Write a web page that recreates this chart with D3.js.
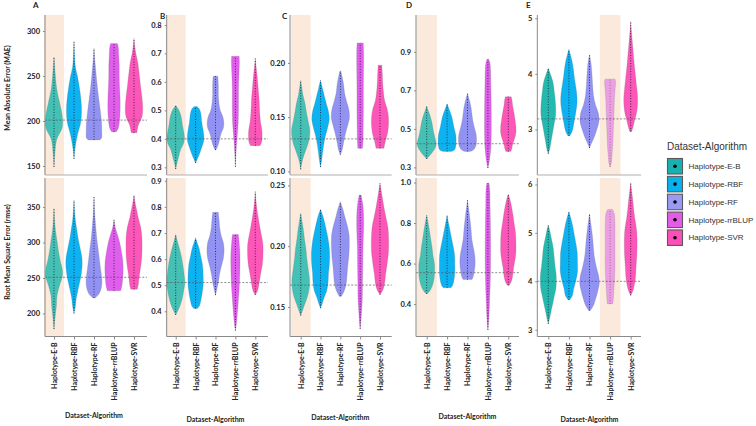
<!DOCTYPE html>
<html><head><meta charset="utf-8">
<script src="https://cdn.jsdelivr.net/npm/d3@7"></script>
<style>body{margin:0;background:#fff} svg{display:block}</style>
</head><body>
<svg id="chart" width="756" height="426"></svg>
<script>
// ---------------- DATA ----------------
const categories = ["Haplotype-E-B","Haplotype-RBF","Haplotype-RF","Haplotype-rrBLUP","Haplotype-SVR"];
const violinColors = ["#17b5ab","#00aeef","#8c8cf2","#de55ea","#fc4db4"];
const legendColors = ["#19b1b0","#0ab0ec","#9a9af4","#e25ce8","#fd4fb8"];
const panelLabels = ["A","B","C","D","E"];
const highlighted = ["Haplotype-E-B","Haplotype-E-B","Haplotype-E-B","Haplotype-E-B","Haplotype-rrBLUP"];
const maeRef = [201, 0.40, 0.13, 0.423, 3.19];
const rmseRef = [251, 0.51, 0.168, 0.555, 4.0];
const maeTicks = [[150,200,250,300],[0.3,0.4,0.5,0.6,0.7,0.8],[0.10,0.15,0.20],[0.3,0.5,0.7,0.9],[3,4,5]];
const rmseTicks = [[200,250,300,350],[0.4,0.5,0.6,0.7,0.8,0.9],[0.15,0.20,0.25],[0.4,0.6,0.8,1.0],[3,4,5,6]];
const maeTickFormat = ["d",".1f",".2f",".1f","d"];
const rmseTickFormat = ["d",".1f",".2f",".1f","d"];
const maeDomains = [[140,317.8],[0.273,0.835],[0.0967,0.2442],[0.2604,1.0917],[2.181,5.059]];
const rmseDomains = [[167.5,391],[0.3034,0.9106],[0.1257,0.2561],[0.24,1.0223],[2.861,6.133]];

// violin profiles: [value, relative half-width] per category
const maeA = [
 [[149,0],[165,0.1],[180,0.3],[192,0.85],[200,0.92],[210,0.8],[220,0.6],[235,0.3],[250,0.15],[271,0]],
 [[158,0],[170,0.12],[185,0.38],[198,0.7],[210,0.8],[222,0.75],[235,0.6],[248,0.4],[260,0.15],[275,0.05],[288,0]],
 [[179,0.6],[181,0.8],[188,0.82],[198,0.8],[210,0.68],[225,0.5],[240,0.33],[255,0.2],[268,0.08],[281,0]],
 [[188,0.25],[192,0.45],[200,0.58],[210,0.64],[222,0.65],[235,0.6],[250,0.55],[262,0.55],[272,0.5],[282,0.45],[286,0.35]],
 [[187,0.3],[195,0.45],[205,0.85],[215,0.92],[225,0.85],[240,0.68],[255,0.52],[265,0.4],[275,0.2],[285,0.06],[292,0]]
];
const rmseA = [
 [[178,0],[195,0.12],[210,0.25],[225,0.32],[240,0.6],[252,0.88],[262,0.88],[275,0.65],[290,0.45],[300,0.35],[315,0.18],[330,0.07],[348,0]],
 [[200,0],[210,0.15],[222,0.25],[235,0.45],[250,0.7],[265,0.85],[278,0.84],[292,0.65],[305,0.45],[318,0.3],[335,0.12],[360,0]],
 [[222,0.15],[228,0.55],[238,0.8],[250,0.82],[262,0.7],[275,0.58],[290,0.45],[305,0.3],[320,0.2],[340,0.08],[364,0]],
 [[232,0.7],[238,0.82],[250,0.92],[262,0.96],[275,0.92],[290,0.75],[300,0.6],[310,0.4],[318,0.2],[325,0.08],[332,0]],
 [[234,0.35],[240,0.45],[252,0.55],[265,0.7],[280,0.82],[295,0.85],[310,0.82],[322,0.7],[335,0.45],[348,0.25],[358,0.1],[367,0]]
];
const maeB = [
 [[0.294,0],[0.31,0.1],[0.335,0.3],[0.36,0.5],[0.385,0.85],[0.405,0.93],[0.425,0.85],[0.45,0.7],[0.475,0.6],[0.5,0.35],[0.517,0]],
 [[0.315,0],[0.33,0.2],[0.35,0.45],[0.37,0.65],[0.39,0.85],[0.41,0.88],[0.43,0.8],[0.46,0.65],[0.49,0.55],[0.505,0.4],[0.514,0.15]],
 [[0.361,0.05],[0.38,0.3],[0.40,0.45],[0.42,0.6],[0.44,0.85],[0.46,0.88],[0.48,0.75],[0.5,0.5],[0.53,0.35],[0.56,0.3],[0.59,0.3],[0.62,0.25]],
 [[0.302,0],[0.34,0.05],[0.38,0.12],[0.42,0.22],[0.46,0.3],[0.52,0.33],[0.58,0.33],[0.63,0.38],[0.67,0.42],[0.69,0.4]],
 [[0.376,0.5],[0.39,0.68],[0.41,0.72],[0.43,0.7],[0.46,0.55],[0.5,0.45],[0.54,0.4],[0.58,0.3],[0.62,0.2],[0.65,0.1],[0.682,0]]
];
const rmseB = [
 [[0.386,0],[0.40,0.2],[0.42,0.45],[0.45,0.7],[0.48,0.85],[0.51,0.97],[0.54,0.9],[0.58,0.75],[0.61,0.6],[0.64,0.4],[0.665,0.2],[0.694,0]],
 [[0.411,0.2],[0.42,0.4],[0.44,0.55],[0.47,0.7],[0.5,0.8],[0.54,0.8],[0.58,0.72],[0.61,0.55],[0.64,0.38],[0.66,0.2],[0.681,0]],
 [[0.462,0],[0.48,0.12],[0.51,0.3],[0.54,0.42],[0.57,0.6],[0.6,0.82],[0.63,0.91],[0.66,0.85],[0.69,0.6],[0.72,0.45],[0.75,0.38],[0.779,0.3]],
 [[0.326,0],[0.35,0.1],[0.38,0.18],[0.41,0.25],[0.45,0.33],[0.5,0.42],[0.55,0.47],[0.6,0.49],[0.64,0.45],[0.67,0.38],[0.694,0.32]],
 [[0.463,0],[0.48,0.25],[0.51,0.42],[0.54,0.55],[0.58,0.75],[0.62,0.82],[0.66,0.8],[0.7,0.6],[0.74,0.4],[0.79,0.18],[0.83,0.06],[0.858,0]]
];
const maeC = [
 [[0.102,0],[0.108,0.12],[0.115,0.35],[0.122,0.65],[0.13,0.9],[0.138,0.97],[0.146,0.8],[0.155,0.6],[0.163,0.45],[0.17,0.25],[0.178,0.1],[0.184,0]],
 [[0.104,0],[0.11,0.12],[0.117,0.22],[0.125,0.35],[0.132,0.5],[0.14,0.75],[0.148,0.93],[0.155,0.85],[0.163,0.6],[0.17,0.4],[0.177,0.2],[0.184,0]],
 [[0.1155,0],[0.12,0.2],[0.127,0.35],[0.135,0.55],[0.143,0.8],[0.15,0.97],[0.157,0.9],[0.165,0.65],[0.172,0.45],[0.18,0.35],[0.187,0.2],[0.1926,0.05]],
 [[0.1213,0.25],[0.128,0.3],[0.14,0.32],[0.155,0.34],[0.17,0.34],[0.185,0.35],[0.2,0.37],[0.21,0.37],[0.2185,0.33]],
 [[0.1213,0.42],[0.128,0.58],[0.135,0.8],[0.142,0.9],[0.15,0.9],[0.158,0.75],[0.165,0.5],[0.172,0.38],[0.18,0.3],[0.19,0.25],[0.1979,0.2]]
];
const rmseC = [
 [[0.143,0],[0.147,0.2],[0.152,0.42],[0.158,0.7],[0.165,0.9],[0.173,0.93],[0.181,0.8],[0.19,0.65],[0.198,0.55],[0.206,0.4],[0.214,0.28],[0.22,0.15],[0.227,0]],
 [[0.149,0],[0.153,0.2],[0.158,0.4],[0.163,0.65],[0.17,0.8],[0.178,0.85],[0.186,0.95],[0.195,0.97],[0.204,0.85],[0.212,0.65],[0.219,0.45],[0.225,0.25],[0.2304,0]],
 [[0.1588,0.1],[0.163,0.4],[0.168,0.6],[0.175,0.7],[0.183,0.78],[0.19,0.88],[0.2,0.95],[0.21,0.92],[0.218,0.7],[0.225,0.45],[0.231,0.25],[0.2366,0]],
 [[0.132,0],[0.138,0.08],[0.145,0.14],[0.155,0.22],[0.17,0.25],[0.185,0.28],[0.2,0.3],[0.215,0.37],[0.228,0.35],[0.236,0.25],[0.2421,0.1]],
 [[0.1602,0],[0.164,0.3],[0.17,0.5],[0.177,0.6],[0.185,0.75],[0.195,0.9],[0.205,0.92],[0.215,0.85],[0.225,0.6],[0.232,0.42],[0.24,0.25],[0.246,0.12],[0.2517,0]]
];
const maeD = [
 [[0.344,0],[0.355,0.2],[0.37,0.45],[0.39,0.75],[0.41,0.95],[0.43,0.97],[0.46,0.82],[0.5,0.65],[0.53,0.55],[0.56,0.4],[0.59,0.2],[0.618,0]],
 [[0.383,0.45],[0.39,0.75],[0.41,0.9],[0.44,0.93],[0.47,0.9],[0.5,0.75],[0.53,0.62],[0.56,0.5],[0.59,0.3],[0.61,0.15],[0.63,0]],
 [[0.383,0.3],[0.39,0.6],[0.41,0.85],[0.44,0.93],[0.47,0.9],[0.5,0.75],[0.53,0.6],[0.56,0.5],[0.6,0.4],[0.64,0.25],[0.684,0]],
 [[0.297,0],[0.32,0.1],[0.35,0.2],[0.4,0.3],[0.48,0.35],[0.58,0.35],[0.66,0.33],[0.74,0.3],[0.8,0.28],[0.84,0.22],[0.861,0.1]],
 [[0.383,0.25],[0.395,0.35],[0.42,0.45],[0.45,0.65],[0.48,0.79],[0.51,0.79],[0.54,0.72],[0.58,0.6],[0.62,0.45],[0.65,0.38],[0.667,0.3]]
];
const rmseD = [
 [[0.451,0],[0.46,0.25],[0.48,0.5],[0.51,0.7],[0.54,0.8],[0.57,0.82],[0.6,0.8],[0.64,0.65],[0.68,0.55],[0.72,0.42],[0.76,0.3],[0.8,0.15],[0.839,0]],
 [[0.481,0.4],[0.49,0.55],[0.52,0.72],[0.56,0.8],[0.6,0.8],[0.64,0.78],[0.68,0.65],[0.72,0.48],[0.76,0.32],[0.8,0.15],[0.839,0]],
 [[0.521,0.45],[0.53,0.55],[0.56,0.7],[0.6,0.79],[0.64,0.75],[0.68,0.6],[0.72,0.45],[0.76,0.38],[0.8,0.3],[0.85,0.18],[0.913,0]],
 [[0.273,0],[0.31,0.08],[0.36,0.13],[0.42,0.18],[0.5,0.24],[0.6,0.28],[0.7,0.28],[0.8,0.26],[0.9,0.22],[0.96,0.2],[0.996,0.12]],
 [[0.493,0.1],[0.51,0.3],[0.54,0.45],[0.58,0.55],[0.62,0.7],[0.66,0.79],[0.7,0.79],[0.75,0.75],[0.8,0.6],[0.85,0.45],[0.89,0.3],[0.92,0.15],[0.942,0]]
];
const maeE = [
 [[2.564,0],[2.65,0.15],[2.8,0.3],[2.95,0.45],[3.1,0.6],[3.25,0.75],[3.4,0.76],[3.55,0.7],[3.7,0.6],[3.85,0.48],[3.98,0.25],[4.1,0]],
 [[2.887,0.1],[2.95,0.3],[3.05,0.45],[3.2,0.6],[3.35,0.75],[3.5,0.84],[3.65,0.8],[3.8,0.68],[3.95,0.55],[4.1,0.45],[4.25,0.3],[4.35,0.15],[4.443,0]],
 [[2.666,0],[2.75,0.2],[2.87,0.5],[3.0,0.75],[3.15,0.97],[3.3,0.9],[3.45,0.6],[3.6,0.42],[3.8,0.32],[4.0,0.25],[4.2,0.15],[4.341,0]],
 [[2.325,0],[2.4,0.12],[2.55,0.2],[2.75,0.28],[2.95,0.32],[3.15,0.36],[3.35,0.4],[3.55,0.44],[3.75,0.52],[3.87,0.56],[3.905,0.5]],
 [[2.964,0.1],[3.05,0.25],[3.15,0.38],[3.3,0.6],[3.45,0.7],[3.6,0.7],[3.75,0.62],[3.95,0.5],[4.15,0.38],[4.35,0.28],[4.55,0.18],[4.75,0.08],[4.939,0]]
];
const rmseE = [
 [[3.124,0],[3.25,0.15],[3.4,0.3],[3.55,0.47],[3.7,0.62],[3.85,0.78],[4.0,0.82],[4.15,0.8],[4.3,0.7],[4.5,0.6],[4.7,0.5],[4.9,0.3],[5.05,0.15],[5.159,0]],
 [[3.62,0.1],[3.7,0.35],[3.85,0.5],[4.0,0.7],[4.2,0.88],[4.4,0.88],[4.6,0.85],[4.8,0.7],[5.0,0.52],[5.15,0.38],[5.3,0.2],[5.435,0]],
 [[3.40,0.1],[3.5,0.4],[3.65,0.65],[3.8,0.85],[3.95,1.0],[4.1,0.95],[4.3,0.7],[4.5,0.5],[4.7,0.4],[4.9,0.32],[5.1,0.2],[5.25,0.1],[5.40,0]],
 [[3.538,0.28],[3.65,0.33],[3.8,0.38],[4.0,0.44],[4.3,0.49],[4.6,0.49],[4.9,0.49],[5.2,0.49],[5.4,0.42],[5.484,0.25]],
 [[3.71,0],[3.8,0.22],[3.95,0.4],[4.1,0.5],[4.3,0.55],[4.5,0.62],[4.7,0.65],[4.9,0.65],[5.1,0.58],[5.3,0.42],[5.5,0.3],[5.7,0.2],[5.9,0.08],[6.035,0]]
];
const maeData = [maeA, maeB, maeC, maeD, maeE];
const rmseData = [rmseA, rmseB, rmseC, rmseD, rmseE];
const yTitles = ["Mean Absolute Error (MAE)", "Root Mean Square Error (rmse)"];
const xTitle = "Dataset-Algorithm";
const legendTitle = "Dataset-Algorithm";

// ---------------- LAYOUT ----------------
const layout = [
  {axisX:45,    right:147,   c0:54,    c1:134,   labelX:33,  labelY:8,    titleY:418},
  {axisX:166.7, right:268,   c0:175.7, c1:255.3, labelX:160, labelY:18.5, titleY:422},
  {axisX:290,   right:391.7, c0:300.7, c1:380,   labelX:282, labelY:18.5, titleY:420},
  {axisX:416,   right:519,   c0:426.7, c1:508.3, labelX:406, labelY:8,    titleY:419},
  {axisX:537.3, right:641,   c0:548.3, c1:630.7, labelX:526, labelY:8,    titleY:422}
];
const rows = [{top:15, bottom:175}, {top:178, bottom:336.5}];
const shadeColor = "#fbe9dc";
const fadedHighlight = [false,false,false,false,true];

const svg = d3.select("#chart");
const font = "Lato, 'Open Sans', sans-serif";

layout.forEach((L, p) => {
  const x = d3.scalePoint().domain(categories).range([L.c0, L.c1]);
  const step = x.step();
  const W = step * 0.475;
  const g = svg.append("g");

  [maeData[p], rmseData[p]].forEach((profiles, r) => {
    const R = rows[r];
    const dom = r === 0 ? maeDomains[p] : rmseDomains[p];
    const y = d3.scaleLinear().domain(dom).range([R.bottom, R.top]);
    const ticks = r === 0 ? maeTicks[p] : rmseTicks[p];
    const fmt = d3.format(r === 0 ? maeTickFormat[p] : rmseTickFormat[p]);
    const ref = r === 0 ? maeRef[p] : rmseRef[p];

    // highlight shading
    const hx = x(highlighted[p]);
    g.append("rect").attr("x", hx - step/2).attr("y", R.top)
      .attr("width", step).attr("height", R.bottom - R.top).attr("fill", shadeColor);

    // violins
    profiles.forEach((prof, i) => {
      const cat = categories[i];
      const cx = x(cat);
      const area = d3.area().curve(d3.curveCatmullRom.alpha(0.5))
        .y(d => y(d[0])).x0(d => cx - d[1]*W).x1(d => cx + d[1]*W);
      const faded = fadedHighlight[p] && cat === highlighted[p];
      g.append("path").attr("d", area(prof))
        .attr("fill", violinColors[i])
        .attr("fill-opacity", faded ? 0.5 : (cat === highlighted[p] ? 0.8 : 0.95))
        .attr("stroke", "#777").attr("stroke-opacity", 0.45).attr("stroke-width", 0.5);
      const vmin = prof[0][0], vmax = prof[prof.length-1][0];
      g.append("line").attr("x1", cx).attr("x2", cx)
        .attr("y1", y(vmin)).attr("y2", y(vmax))
        .attr("stroke", "#151530").attr("stroke-width", 1)
        .attr("stroke-opacity", faded ? 0.4 : 0.85)
        .attr("stroke-dasharray", "0.9 1.8");
    });

    // reference dashed line
    g.append("line").attr("x1", L.axisX).attr("x2", L.right)
      .attr("y1", y(ref)).attr("y2", y(ref))
      .attr("stroke", "#555").attr("stroke-width", 0.8)
      .attr("stroke-dasharray", "2 1.6").attr("stroke-opacity", 0.85);

    // y axis
    const ax = g.append("g").attr("transform", `translate(${L.axisX},0)`)
      .call(d3.axisLeft(y).tickValues(ticks).tickFormat(fmt).tickSize(2).tickPadding(3));
    ax.select(".domain").attr("stroke", "#8a8a8a").attr("d", `M-0,${R.top}V${R.bottom}`);
    ax.selectAll(".tick line").attr("stroke", "#8a8a8a");
    ax.selectAll(".tick text").attr("font-family", font).attr("font-weight", "bold")
      .attr("font-size", 7.5).attr("fill", "#222");

    // bottom line of row
    if (r === 0) {
      g.append("line").attr("x1", L.axisX).attr("x2", L.right)
        .attr("y1", R.bottom).attr("y2", R.bottom)
        .attr("stroke", "#b0b0b0").attr("stroke-width", 1.2);
    } else {
      const bx = g.append("g").attr("transform", `translate(0,${R.bottom})`)
        .call(d3.axisBottom(x).tickSize(3).tickPadding(4));
      bx.select(".domain").attr("stroke", "#8a8a8a").attr("d", `M${L.axisX},0H${L.right}`);
      bx.selectAll(".tick line").attr("stroke", "#8a8a8a");
      bx.selectAll(".tick text")
        .attr("font-family", font).attr("font-weight", "bold").attr("font-size", 7)
        .attr("fill", "#222").attr("text-anchor", "end")
        .attr("transform", "rotate(-90)").attr("x", -6).attr("y", 0).attr("dy", "0.35em");
    }
  });

  // panel letter
  svg.append("text").attr("x", L.labelX).attr("y", L.labelY).text(panelLabels[p])
    .attr("font-family", font).attr("font-weight", "bold").attr("font-size", 8).attr("fill", "#222");
  // x title
  svg.append("text").attr("x", (L.c0 + L.c1)/2).attr("y", L.titleY).text(xTitle)
    .attr("text-anchor", "middle").attr("font-family", font).attr("font-weight", "bold")
    .attr("font-size", 7).attr("fill", "#222");
});

// y titles
[88, 252].forEach((cy, i) => {
  svg.append("text").attr("transform", `translate(10,${cy}) rotate(-90)`)
    .attr("text-anchor", "middle").text(yTitles[i])
    .attr("font-family", font).attr("font-weight", "bold").attr("font-size", 7).attr("fill", "#222");
});

// legend
const lg = svg.append("g").attr("transform", "translate(667,0)");
lg.append("text").attr("x", 0).attr("y", 150).text(legendTitle)
  .attr("font-family", "'Liberation Sans', Arial, sans-serif").attr("font-size", 10).attr("fill", "#333");
const ly = d3.scaleBand().domain(categories).range([158.5, 158.5 + 17.5*5]).paddingInner(0.1);
categories.forEach((c, i) => {
  const yy = ly(c);
  lg.append("rect").attr("x", 0.5).attr("y", yy).attr("width", 15).attr("height", 15.5)
    .attr("fill", legendColors[i]).attr("stroke", "#5a5a5a").attr("stroke-width", 1.1);
  lg.append("circle").attr("cx", 8).attr("cy", yy + 7.75).attr("r", 1.8).attr("fill", "#000");
  lg.append("text").attr("x", 21.5).attr("y", yy + 7.75).attr("dy", "0.35em").text(c)
    .attr("font-family", "'Liberation Sans', Arial, sans-serif").attr("font-size", 8).attr("fill", "#333");
});
</script>
</body></html>
